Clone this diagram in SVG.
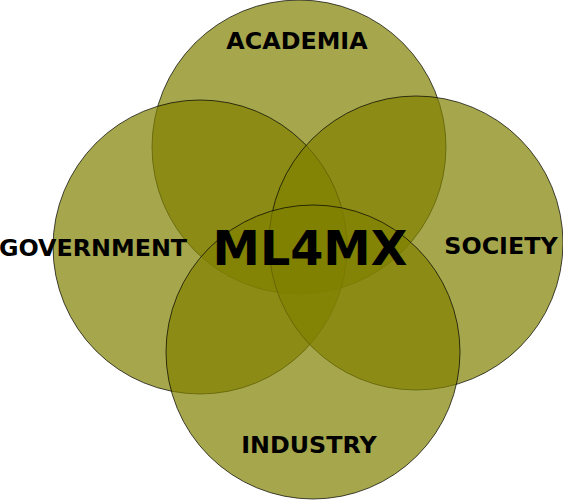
<svg xmlns="http://www.w3.org/2000/svg" width="563" height="500" viewBox="0 0 563 500">
<style>
.c{fill:#808000;fill-opacity:0.7;stroke:#000;stroke-opacity:0.7;stroke-width:1}
.t{font-family:"DejaVu Sans",sans-serif;font-weight:bold;font-size:23.8px;fill:#000;text-anchor:middle}
.m{font-size:47.6px}
</style>
<rect width="563" height="500" fill="#fff"/>
<g id="academia"><circle class="c" cx="299" cy="147" r="147"/></g>
<g id="government"><circle class="c" cx="200" cy="247" r="147"/></g>
<g id="society"><circle class="c" cx="416" cy="243" r="147"/></g>
<g id="industry"><circle class="c" cx="313" cy="352" r="147"/></g>
<g id="labels">
<text class="t" x="297" y="49">ACADEMIA</text>
<text class="t" x="93" y="256">GOVERNMENT</text>
<text class="t" x="501" y="254">SOCIETY</text>
<text class="t" x="309" y="453">INDUSTRY</text>
<text class="t m" x="310" y="265">ML4MX</text>
</g>
</svg>
